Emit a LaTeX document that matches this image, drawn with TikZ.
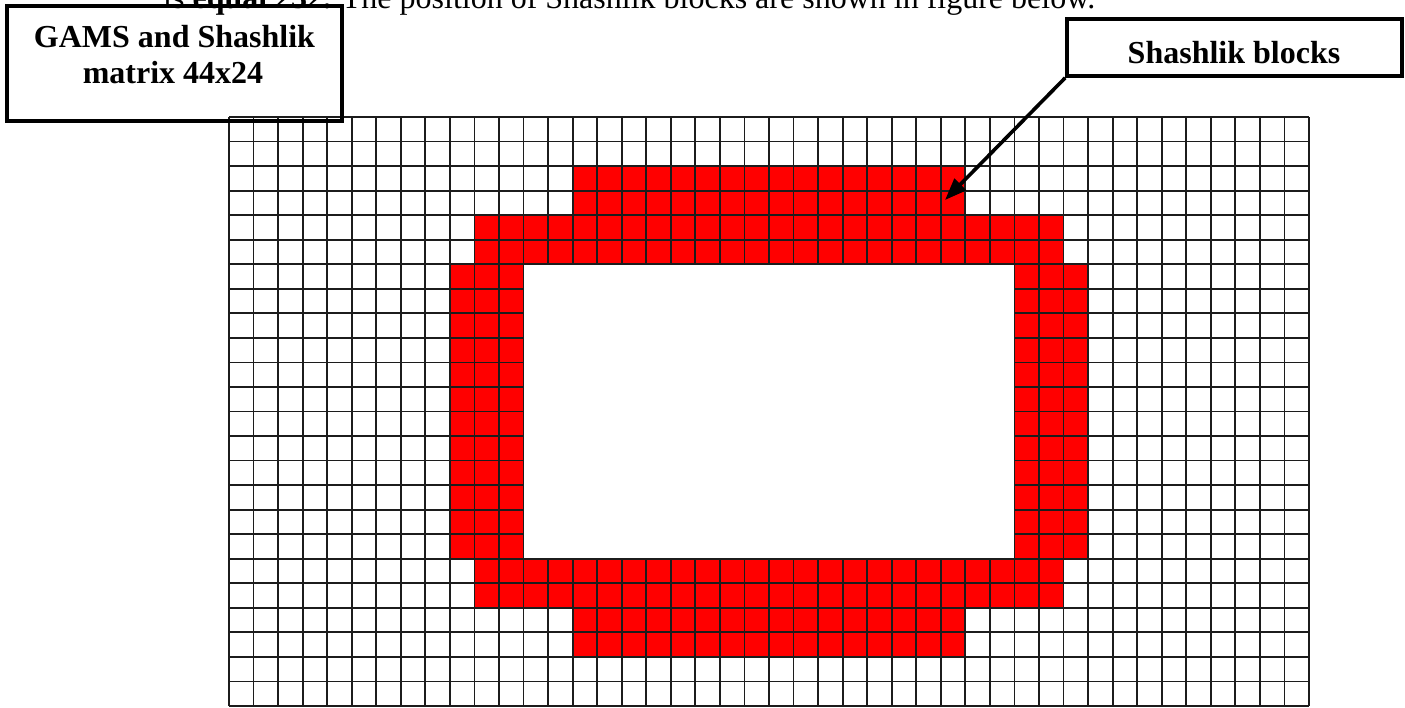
\documentclass[tikz,border=0pt]{standalone}
\usepackage{fontspec}
\setmainfont{Liberation Serif}
\usetikzlibrary{arrows.meta}
\definecolor{gridcol}{RGB}{28,28,28}
\definecolor{shred}{RGB}{255,0,0}
\tikzset{
  gridline/.style={draw=gridcol, line width=1.8pt},
  block/.style={fill=shred},
  labelbox/.style={draw=black, line width=3.6pt, inner sep=0pt},
  boxtext/.style={font=\fontsize{32}{35}\selectfont\bfseries, anchor=base, inner sep=0pt},
  bodytext/.style={font=\fontsize{32}{35}\selectfont, anchor=base west, inner sep=0pt},
  pointer/.style={draw=black, line width=3.6pt, -{Triangle[length=22pt,width=16pt]}},
}
\begin{document}
\begin{tikzpicture}[x=1pt,y=-1pt]
\useasboundingbox (0,0) rectangle (1405,707);
\clip (0,0) rectangle (1405,707);
\fill[white] (0,0) rectangle (1405,707);

% grid of 44 x 24 cells
\begin{scope}[shift={(229,117)}, x=24.545pt, y=-24.54pt]
  \fill[block] (14,2) rectangle (30,4);
  \fill[block] (10,4) rectangle (34,6);
  \fill[block] (9,6) rectangle (35,18);
  \fill[block] (10,18) rectangle (34,20);
  \fill[block] (14,20) rectangle (30,22);
  \foreach \i in {0,...,44} \draw[gridline] (\i,0) -- (\i,24);
  \foreach \j in {0,...,24} \draw[gridline] (0,\j) -- (44,\j);
  \fill[white] (12,6) rectangle (32,18);
  \draw[gridline] (12,6) rectangle (32,18);
\end{scope}

% clipped sentence at the top
\node[bodytext] (intro) at (163,8) {is \textbf{equal 232.} The position of Shashlik blocks are shown in figure below.};

% label boxes
\node[labelbox, minimum width=335pt, minimum height=115pt] (gams) at (174.5,63.5) {};
\node[boxtext] (gamsA) at (174.5,47) {GAMS and Shashlik};
\node[boxtext] (gamsB) at (173,83) {matrix 44x24};

\node[labelbox, minimum width=335pt, minimum height=57pt] (sb) at (1234.5,47.5) {};
\node[boxtext] (sbtext) at (1234,63) {Shashlik blocks};

\coordinate (tip) at (945,200);
\draw[pointer] (sb.south west) -- (tip);
\end{tikzpicture}
\end{document}
